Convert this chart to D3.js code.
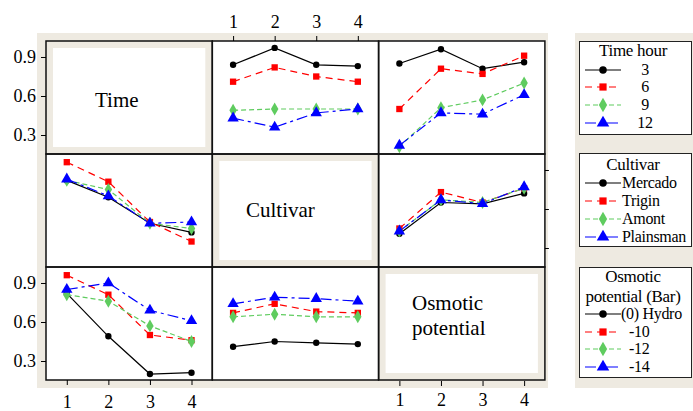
<!DOCTYPE html>
<html>
<head>
<meta charset="utf-8">
<script src="https://cdn.jsdelivr.net/npm/d3@7"></script>
<style>
  body { margin: 0; background: #fff; }
  svg text { font-family: "Liberation Serif", "Times New Roman", serif; fill: #000; }
</style>
</head>
<body>
<div id="chart"></div>
<script>
// ===========Data
var levels = [1, 2, 3, 4];
var yTicks = [0.3, 0.6, 0.9];

var timeLevels = ["3", "6", "9", "12"];
var cultivarLevels = ["Mercado", "Trigin", "Amont", "Plainsman"];
var osmoticLevels = ["(0) Hydro", "-10", "-12", "-14"];

// row 1: traces = Time hour
var timeByCultivar = [
  [0.84, 0.97, 0.84, 0.83],
  [0.71, 0.82, 0.75, 0.71],
  [0.49, 0.50, 0.50, 0.50],
  [0.43, 0.36, 0.47, 0.50]
];
var timeByOsmotic = [
  [0.85, 0.96, 0.81, 0.86],
  [0.50, 0.81, 0.77, 0.91],
  [0.21, 0.51, 0.57, 0.70],
  [0.22, 0.47, 0.46, 0.61]
];
// row 2: traces = Cultivar
var cultivarByTime = [
  [0.82, 0.69, 0.49, 0.42],
  [0.96, 0.81, 0.50, 0.35],
  [0.82, 0.75, 0.49, 0.45],
  [0.83, 0.70, 0.49, 0.50]
];
var cultivarByOsmotic = [
  [0.41, 0.65, 0.64, 0.72],
  [0.45, 0.73, 0.65, 0.76],
  [0.43, 0.67, 0.65, 0.76],
  [0.43, 0.67, 0.64, 0.77]
];
// row 3: traces = Osmotic potential
var osmoticByTime = [
  [0.82, 0.49, 0.20, 0.21],
  [0.96, 0.81, 0.50, 0.46],
  [0.81, 0.76, 0.57, 0.45],
  [0.85, 0.90, 0.69, 0.61]
];
var osmoticByCultivar = [
  [0.41, 0.45, 0.44, 0.43],
  [0.67, 0.74, 0.68, 0.67],
  [0.64, 0.66, 0.64, 0.64],
  [0.74, 0.79, 0.78, 0.76]
];

// ===========Styles per trace
var colors = ["#000000", "#ff0000", "#5fcc5f", "#0000ff"];
var dashes = [null, "7,5", "5,3", "11,4,3,4"];
var symbols = [d3.symbolCircle, d3.symbolSquare, d3.symbolDiamond, d3.symbolTriangle];
var symSizes = [32, 40, 48, 56];

// ===========Layout
var svgWidth = 693, svgHeight = 411;
var gridLeft = 46, gridTop = 41;
var cellW = 166.3, cellH = 113;
var beige = "#eeeae1";

var svg = d3.select("#chart").append("svg")
  .attr("width", svgWidth)
  .attr("height", svgHeight);

svg.append("rect").attr("x", 37).attr("y", 33).attr("width", 511).attr("height", 355).attr("fill", beige);
svg.append("rect").attr("x", 575).attr("y", 33).attr("width", 118).attr("height", 355).attr("fill", beige);

function cellX(c) { return gridLeft + c * cellW; }
function cellY(r) { return gridTop + r * cellH; }

function xScale(c) {
  return d3.scaleLinear().domain([0.5, 4.5]).range([cellX(c), cellX(c) + cellW]);
}
function yScale(r) {
  return d3.scaleLinear().domain([0.154, 1.023]).range([cellY(r) + cellH, cellY(r)]);
}

var panels = [
  { r: 0, c: 1, data: timeByCultivar },
  { r: 0, c: 2, data: timeByOsmotic },
  { r: 1, c: 0, data: cultivarByTime },
  { r: 1, c: 2, data: cultivarByOsmotic },
  { r: 2, c: 0, data: osmoticByTime },
  { r: 2, c: 1, data: osmoticByCultivar }
];

// diagonal label cells
var diagonals = [
  { r: 0, lines: ["Time"], x: 95, y: 107 },
  { r: 1, lines: ["Cultivar"], x: 246, y: 217 },
  { r: 2, lines: ["Osmotic", "potential"], x: 412, y: 310 }
];

// cell backgrounds
for (var r = 0; r < 3; r++) {
  for (var c = 0; c < 3; c++) {
    svg.append("rect")
      .attr("x", cellX(c)).attr("y", cellY(r))
      .attr("width", cellW).attr("height", cellH)
      .attr("fill", r === c ? beige : "#fff");
  }
}

diagonals.forEach(function(d) {
  svg.append("rect")
    .attr("x", cellX(d.r) + 7).attr("y", cellY(d.r) + 7)
    .attr("width", cellW - 14).attr("height", cellH - 14)
    .attr("fill", "#fff");
  d.lines.forEach(function(t, i) {
    svg.append("text")
      .attr("x", d.x).attr("y", d.y + i * 25)
      .attr("font-size", "21px")
      .text(t);
  });
});

// ===========Lines and markers
panels.forEach(function(p) {
  var x = xScale(p.c), y = yScale(p.r);
  var line = d3.line().x(function(d, i) { return x(levels[i]); }).y(function(d) { return y(d); });
  var g = svg.append("g");
  p.data.forEach(function(series, k) {
    g.append("path")
      .attr("d", line(series))
      .attr("fill", "none")
      .attr("stroke", colors[k])
      .attr("stroke-width", 1.2)
      .attr("stroke-dasharray", dashes[k]);
  });
  p.data.forEach(function(series, k) {
    g.selectAll(null).data(series).enter().append("path")
      .attr("d", d3.symbol().type(symbols[k]).size(symSizes[k]))
      .attr("transform", function(d, i) { return "translate(" + x(levels[i]) + "," + y(d) + ")"; })
      .attr("fill", colors[k]);
  });
});

// cell borders
for (var r2 = 0; r2 < 3; r2++) {
  for (var c2 = 0; c2 < 3; c2++) {
    svg.append("rect")
      .attr("x", cellX(c2)).attr("y", cellY(r2))
      .attr("width", cellW).attr("height", cellH)
      .attr("fill", "none")
      .attr("stroke", "#111")
      .attr("stroke-width", 1.5);
  }
}

// ===========Axes
function styleAxis(g) {
  g.select(".domain").remove();
  g.attr("font-family", null);
  g.selectAll("line").attr("stroke", "#000");
  g.selectAll("text").attr("font-size", "18px").attr("fill", "#000");
}

[0, 2].forEach(function(r) {
  svg.append("g")
    .attr("transform", "translate(" + gridLeft + ",0)")
    .call(d3.axisLeft(yScale(r)).tickValues(yTicks).tickSize(5).tickPadding(5).tickFormat(d3.format(".1f")))
    .call(styleAxis);
});

svg.append("g")
  .attr("transform", "translate(" + cellX(3) + ",0)")
  .call(d3.axisRight(yScale(1)).tickValues(yTicks).tickSize(4).tickFormat(""))
  .call(styleAxis);

svg.append("g")
  .attr("transform", "translate(0," + gridTop + ")")
  .call(d3.axisTop(xScale(1)).tickValues(levels).tickSize(5).tickPadding(8).tickFormat(d3.format("d")))
  .call(styleAxis);

svg.append("g")
  .attr("transform", "translate(0," + cellY(3) + ")")
  .call(d3.axisBottom(xScale(0)).tickValues(levels).tickSize(5).tickPadding(10).tickFormat(d3.format("d")))
  .call(styleAxis);

svg.append("g")
  .attr("transform", "translate(0," + (cellY(3) + 1) + ")")
  .call(d3.axisBottom(xScale(2)).tickValues(levels).tickSize(5).tickPadding(7).tickFormat(d3.format("d")))
  .call(styleAxis);

// ===========Legends
var legends = [
  { title: ["Time hour"], titleY: [56], box: [41, 93], rows: [70, 87, 105, 123], labels: timeLevels, labelX: 645, anchor: "middle" },
  { title: ["Cultivar"], titleY: [170], box: [153, 93], rows: [183, 201, 219, 237], labels: cultivarLevels, labelX: 622, anchor: "start" },
  { title: ["Osmotic", "potential (Bar)"], titleY: [282, 302], box: [267, 110], rows: [314, 332, 349, 367], labels: osmoticLevels, labelX: 621, anchor: "start" }
];

legends.forEach(function(L) {
  svg.append("rect")
    .attr("x", 579.5).attr("y", L.box[0] + 0.5)
    .attr("width", 112).attr("height", L.box[1])
    .attr("fill", "#fff").attr("stroke", "#222").attr("stroke-width", 1);
  L.title.forEach(function(t, i) {
    svg.append("text")
      .attr("x", 633).attr("y", L.titleY[i])
      .attr("text-anchor", "middle")
      .attr("font-size", "17px")
      .attr("letter-spacing", "-0.3px")
      .text(t);
  });
  L.rows.forEach(function(yy, k) {
    svg.append("line")
      .attr("x1", 585).attr("x2", 621).attr("y1", yy).attr("y2", yy)
      .attr("stroke", colors[k]).attr("stroke-width", 1.2)
      .attr("stroke-dasharray", dashes[k]);
    svg.append("path")
      .attr("d", d3.symbol().type(symbols[k]).size(symSizes[k] + 12))
      .attr("transform", "translate(603," + yy + ")")
      .attr("fill", colors[k]);
    var lx = L.labelX;
    if (L.labels === osmoticLevels && k > 0) lx = 629;
    svg.append("text")
      .attr("x", lx).attr("y", yy + 5)
      .attr("text-anchor", L.anchor)
      .attr("font-size", "16px")
      .attr("letter-spacing", "-0.3px")
      .text(L.labels[k]);
  });
});
</script>
</body>
</html>
